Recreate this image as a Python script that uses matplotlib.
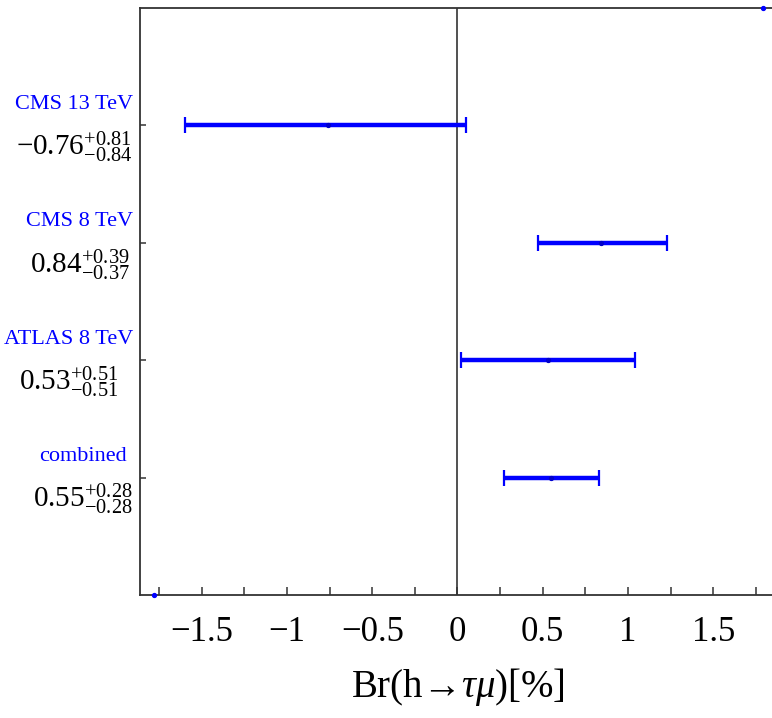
import matplotlib
matplotlib.use("Agg")
import matplotlib.pyplot as plt
import matplotlib.transforms as mtransforms
from matplotlib.ticker import MultipleLocator, FuncFormatter

# ---- data ----
experiments = ["CMS 13 TeV", "CMS 8 TeV", "ATLAS 8 TeV", "combined"]
central = [-0.76, 0.84, 0.53, 0.55]
err_up = [0.81, 0.39, 0.51, 0.28]
err_down = [0.84, 0.37, 0.51, 0.28]
rows = [4, 3, 2, 1]
value_labels = ["\u22120.76", "0.84", "0.53", "0.55"]
up_labels = ["+0.81", "+0.39", "+0.51", "+0.28"]
down_labels = ["\u22120.84", "\u22120.37", "\u22120.51", "\u22120.28"]
corner_x = [-1.78, 1.79]
corner_y = [0, 5]
xlabel = "$\\mathrm{Br(h\u2192}\\tau\\mu\\mathrm{)[\\%]}$"

plt.rcParams["mathtext.fontset"] = "custom"
plt.rcParams["mathtext.rm"] = "Liberation Serif"
plt.rcParams["mathtext.it"] = "Liberation Serif:italic"
plt.rcParams["mathtext.bf"] = "Liberation Serif:bold"
plt.rcParams["font.family"] = ["Liberation Serif", "DejaVu Serif"]

W, H, DPI = 772, 718, 100
fig = plt.figure(figsize=(W / DPI, H / DPI), dpi=DPI)
ax = fig.add_axes([140 / W, 1 - 595 / H, 636 / W, 587 / H])

blue = "#0000ff"
ax.errorbar(central, rows, xerr=[err_down, err_up], fmt="none", ecolor=blue,
            elinewidth=3.2, capsize=5.5, capthick=1.6, zorder=3)
ax.plot(central, rows, "o", color="#0000cc", markersize=2.8, zorder=4)
ax.plot(corner_x, corner_y, "o", color=blue, markersize=2.8, zorder=4, clip_on=False)

ax.axvline(0, color="#333333", linewidth=1.2, zorder=2)

ax.set_xlim(-1.862, 1.868)
ax.set_ylim(0, 5)

for s in ["left", "top", "bottom"]:
    ax.spines[s].set_color("#333333")
    ax.spines[s].set_linewidth(1.3)
ax.spines["right"].set_visible(False)

ax.xaxis.set_major_locator(MultipleLocator(0.5))
ax.xaxis.set_minor_locator(MultipleLocator(0.25))
ax.xaxis.set_major_formatter(FuncFormatter(lambda v, p: ("%g" % v).replace("-", "\u2212")))
ax.tick_params(axis="x", which="both", direction="in", length=6, width=1.1,
               color="#333333", top=False, pad=15, labelsize=25)
ax.set_yticks(rows)
ax.set_yticklabels([])
ax.tick_params(axis="y", which="both", direction="in", length=4.5, width=1.1,
               color="#333333", right=False)
ax.set_xlabel(xlabel, fontsize=28, labelpad=12)

trans = mtransforms.blended_transform_factory(ax.transAxes, ax.transData)
names, vals = [], []
for i, r in enumerate(rows):
    tn = ax.annotate(experiments[i], xy=(0, r), xycoords=trans, xytext=(-60, 20),
                     textcoords="offset pixels", ha="center", va="center",
                     fontsize=16, color=blue, annotation_clip=False)
    s = r"$%s^{%s}_{%s}$" % (value_labels[i], up_labels[i], down_labels[i])
    tv = ax.annotate(s, xy=(0, r), xycoords=trans, xytext=(-60, -22),
                     textcoords="offset pixels", ha="center", va="center",
                     fontsize=21, color="black", annotation_clip=False)
    names.append(tn)
    vals.append(tv)

fig.canvas.draw()
rend = fig.canvas.get_renderer()
for tn, tv in zip(names, vals):
    w = max(tn.get_window_extent(rend).width, tv.get_window_extent(rend).width)
    cx = -(7 + w / 2)
    tn.xyann = (cx, 21)
    tv.xyann = (cx, -22)

fig.savefig("out.png", dpi=DPI)
